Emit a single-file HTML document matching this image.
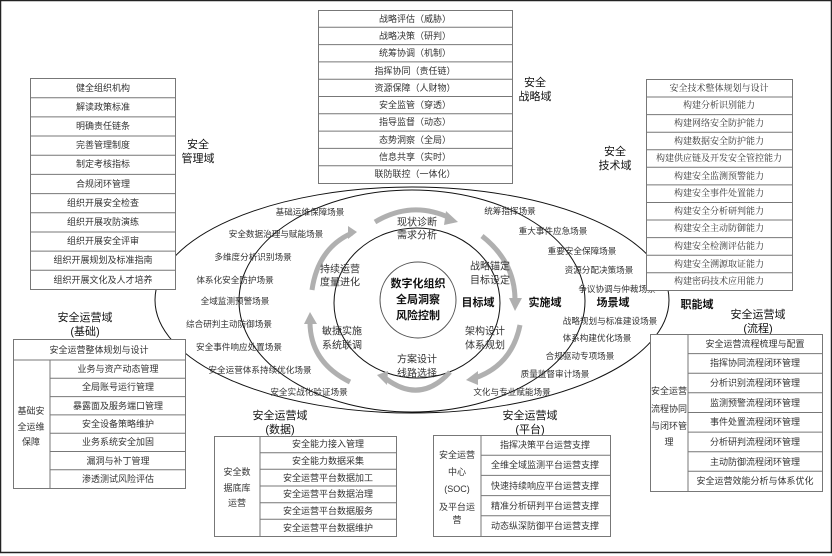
<!DOCTYPE html>
<html><head><meta charset="utf-8"><style>
html,body{margin:0;padding:0;background:#fff}
svg{display:block;font-family:"Liberation Sans","Noto Sans CJK SC",sans-serif}
.t text{font-size:9px;fill:#333;text-anchor:middle;dominant-baseline:central}
.ser text{font-family:"Liberation Serif","Noto Serif CJK SC",serif}
.s text{font-size:8.6px;fill:#333;text-anchor:middle;dominant-baseline:central}
.d{font-size:11px;fill:#111;text-anchor:middle;dominant-baseline:central}
.b{font-size:11px;font-weight:bold;fill:#111;text-anchor:middle;dominant-baseline:central}
.tb rect,.tb line{stroke:#777;stroke-width:1;fill:none}
</style></head><body>
<svg width="832" height="556" viewBox="0 0 832 556">
<rect x="0.5" y="0.5" width="831" height="552" fill="#fff" stroke="#222" stroke-width="1.5"/>

<g fill="none" stroke="#111" stroke-width="1">
<ellipse cx="412" cy="300" rx="257" ry="113"/>
<ellipse cx="412" cy="301" rx="173" ry="111"/>
<ellipse cx="417" cy="303" rx="83" ry="75"/>
<circle cx="418" cy="300" r="38" stroke="#555"/>
</g>

<g fill="none" stroke="#b0b0b0" stroke-width="5">
<path d="M375 222 Q412 200 450 218"/>
<path d="M482 236 Q515 262 515 300"/>
<path d="M520 325 Q512 365 475 378"/>
<path d="M450 372 Q420 405 385 378"/>
<path d="M350 382 Q310 362 310 322"/>
<path d="M312 290 Q318 248 352 233"/>
</g>
<g fill="#b0b0b0">
<polygon points="446,211 458,222 444,225"/>
<polygon points="509,298 515,311 522,298"/>
<polygon points="478,371 466,380 478,385"/>
<polygon points="388,371 377,375 387,385"/>
<polygon points="304,324 310,312 317,324"/>
<polygon points="348,226 357,232 348,239"/>
</g>

<text class="b" x="418" y="284">数字化组织</text>
<text class="b" x="418" y="300">全局洞察</text>
<text class="b" x="418" y="316">风险控制</text>
<text class="b" x="478" y="303">目标域</text>
<text class="b" x="545" y="303">实施域</text>
<text class="b" x="613" y="303">场景域</text>
<text class="b" x="697" y="305">职能域</text>
<g class="t">
<text x="417" y="223" style="font-size:10px">现状诊断</text><text x="417" y="236" style="font-size:10px">需求分析</text>
<text x="490" y="267" style="font-size:10px">战略锚定</text><text x="490" y="281" style="font-size:10px">目标设定</text>
<text x="485" y="332" style="font-size:10px">架构设计</text><text x="485" y="346" style="font-size:10px">体系规划</text>
<text x="417" y="360" style="font-size:10px">方案设计</text><text x="417" y="374" style="font-size:10px">线路选择</text>
<text x="342" y="332" style="font-size:10px">敏捷实施</text><text x="342" y="346" style="font-size:10px">系统联调</text>
<text x="340" y="270" style="font-size:10px">持续运营</text><text x="340" y="283" style="font-size:10px">度量进化</text>
</g>

<g class="s">
<text x="310" y="212">基础运维保障场景</text>
<text x="276" y="234">安全数据治理与赋能场景</text>
<text x="253" y="257">多维度分析识别场景</text>
<text x="235" y="280">体系化安全防护场景</text>
<text x="235" y="301">全域监测预警场景</text>
<text x="229" y="324">综合研判主动防御场景</text>
<text x="239" y="347">安全事件响应处置场景</text>
<text x="260" y="370">安全运营体系持续优化场景</text>
<text x="309" y="392">安全实战化验证场景</text>
<text x="510" y="211">统筹指挥场景</text>
<text x="553" y="231">重大事件应急场景</text>
<text x="582" y="251">重要安全保障场景</text>
<text x="599" y="270">资源分配决策场景</text>
<text x="617" y="289">争议协调与仲裁场景</text>
<text x="610" y="321">战略规划与标准建设场景</text>
<text x="597" y="338">体系构建优化场景</text>
<text x="580" y="356">合规驱动专项场景</text>
<text x="555" y="374">质量监督审计场景</text>
<text x="512" y="392">文化与专业赋能场景</text>
</g>

<text class="d" x="198" y="145">安全</text><text class="d" x="198" y="159">管理域</text>
<text class="d" x="535" y="83">安全</text><text class="d" x="535" y="97">战略域</text>
<text class="d" x="615" y="152">安全</text><text class="d" x="615" y="166">技术域</text>
<text class="d" x="85" y="318">安全运营域</text><text class="d" x="85" y="332">(基础)</text>
<text class="d" x="280" y="416">安全运营域</text><text class="d" x="280" y="430">(数据)</text>
<text class="d" x="530" y="416">安全运营域</text><text class="d" x="530" y="430">(平台)</text>
<text class="d" x="758" y="315">安全运营域</text><text class="d" x="758" y="329">(流程)</text>

<g class="tb"><rect x="30.5" y="78.5" width="145" height="211" style="fill:#fff"/>
<line x1="30" x2="175" y1="97.7" y2="97.7"/><line x1="30" x2="175" y1="116.9" y2="116.9"/><line x1="30" x2="175" y1="136" y2="136"/><line x1="30" x2="175" y1="155.2" y2="155.2"/><line x1="30" x2="175" y1="174.4" y2="174.4"/><line x1="30" x2="175" y1="193.6" y2="193.6"/><line x1="30" x2="175" y1="212.8" y2="212.8"/><line x1="30" x2="175" y1="232" y2="232"/><line x1="30" x2="175" y1="251.1" y2="251.1"/><line x1="30" x2="175" y1="270.3" y2="270.3"/></g>
<g class="t">
<text x="103" y="88">健全组织机构</text><text x="103" y="107">解读政策标准</text><text x="103" y="126">明确责任链条</text><text x="103" y="145">完善管理制度</text><text x="103" y="164">制定考核指标</text><text x="103" y="184">合规闭环管理</text><text x="103" y="203">组织开展安全检查</text><text x="103" y="222">组织开展攻防演练</text><text x="103" y="241">组织开展安全评审</text><text x="103" y="260">组织开展规划及标准指南</text><text x="103" y="280">组织开展文化及人才培养</text>
</g>

<g class="tb"><rect x="318.5" y="10.5" width="194" height="173" style="fill:#fff"/>
<line x1="318" x2="512" y1="27.3" y2="27.3"/><line x1="318" x2="512" y1="44.6" y2="44.6"/><line x1="318" x2="512" y1="61.9" y2="61.9"/><line x1="318" x2="512" y1="79.2" y2="79.2"/><line x1="318" x2="512" y1="96.5" y2="96.5"/><line x1="318" x2="512" y1="113.8" y2="113.8"/><line x1="318" x2="512" y1="131.1" y2="131.1"/><line x1="318" x2="512" y1="148.4" y2="148.4"/><line x1="318" x2="512" y1="165.7" y2="165.7"/></g>
<g class="t">
<text x="415" y="19">战略评估（威胁）</text><text x="415" y="36">战略决策（研判）</text><text x="415" y="53">统筹协调（机制）</text><text x="415" y="71">指挥协同（责任链）</text><text x="415" y="88">资源保障（人财物）</text><text x="415" y="105">安全监管（穿透）</text><text x="415" y="122">指导监督（动态）</text><text x="415" y="140">态势洞察（全局）</text><text x="415" y="157">信息共享（实时）</text><text x="415" y="174">联防联控（一体化）</text>
</g>

<g class="tb"><rect x="646.5" y="79.5" width="146" height="211" style="fill:#fff"/>
<line x1="646" x2="792" y1="97" y2="97"/><line x1="646" x2="792" y1="114.6" y2="114.6"/><line x1="646" x2="792" y1="132.2" y2="132.2"/><line x1="646" x2="792" y1="149.7" y2="149.7"/><line x1="646" x2="792" y1="167.3" y2="167.3"/><line x1="646" x2="792" y1="184.9" y2="184.9"/><line x1="646" x2="792" y1="202.5" y2="202.5"/><line x1="646" x2="792" y1="220" y2="220"/><line x1="646" x2="792" y1="237.6" y2="237.6"/><line x1="646" x2="792" y1="255.2" y2="255.2"/><line x1="646" x2="792" y1="272.8" y2="272.8"/></g>
<g class="t ser">
<text x="719" y="88">安全技术整体规划与设计</text><text x="719" y="105">构建分析识别能力</text><text x="719" y="123">构建网络安全防护能力</text><text x="719" y="141">构建数据安全防护能力</text><text x="719" y="158">构建供应链及开发安全管控能力</text><text x="719" y="176">构建安全监测预警能力</text><text x="719" y="193">构建安全事件处置能力</text><text x="719" y="211">构建安全分析研判能力</text><text x="719" y="228">构建安全主动防御能力</text><text x="719" y="246">构建安全检测评估能力</text><text x="719" y="264">构建安全溯源取证能力</text><text x="719" y="281">构建密码技术应用能力</text>
</g>

<g class="tb"><rect x="13.5" y="339.5" width="172" height="149" style="fill:#fff"/>
<line x1="13" x2="185" y1="360" y2="360"/><line x1="50" x2="50" y1="360" y2="488"/>
<line x1="50" x2="185" y1="378.3" y2="378.3"/><line x1="50" x2="185" y1="396.6" y2="396.6"/><line x1="50" x2="185" y1="414.9" y2="414.9"/><line x1="50" x2="185" y1="433.2" y2="433.2"/><line x1="50" x2="185" y1="451.5" y2="451.5"/><line x1="50" x2="185" y1="469.7" y2="469.7"/></g>
<g class="t">
<text x="99" y="350">安全运营整体规划与设计</text>
<text x="31" y="411">基础安</text><text x="31" y="427">全运维</text><text x="31" y="442">保障</text>
<text x="118" y="369">业务与资产动态管理</text><text x="118" y="387">全局账号运行管理</text><text x="118" y="406">暴露面及服务端口管理</text><text x="118" y="424">安全设备策略维护</text><text x="118" y="442">业务系统安全加固</text><text x="118" y="461">漏洞与补丁管理</text><text x="118" y="479">渗透测试风险评估</text>
</g>

<g class="tb"><rect x="214.5" y="436.5" width="182" height="100" style="fill:#fff"/>
<line x1="260" x2="260" y1="436" y2="536"/>
<line x1="260" x2="396" y1="452.7" y2="452.7"/><line x1="260" x2="396" y1="469.3" y2="469.3"/><line x1="260" x2="396" y1="486" y2="486"/><line x1="260" x2="396" y1="502.7" y2="502.7"/><line x1="260" x2="396" y1="519.3" y2="519.3"/></g>
<g class="t">
<text x="237" y="472">安全数</text><text x="237" y="488">据底库</text><text x="237" y="503">运营</text>
<text x="328" y="444">安全能力接入管理</text><text x="328" y="461">安全能力数据采集</text><text x="328" y="478">安全运营平台数据加工</text><text x="328" y="494">安全运营平台数据治理</text><text x="328" y="511">安全运营平台数据服务</text><text x="328" y="528">安全运营平台数据维护</text>
</g>

<g class="tb"><rect x="433.5" y="435.5" width="177" height="101" style="fill:#fff"/>
<line x1="481" x2="481" y1="435" y2="536"/>
<line x1="481" x2="610" y1="455.2" y2="455.2"/><line x1="481" x2="610" y1="475.4" y2="475.4"/><line x1="481" x2="610" y1="495.6" y2="495.6"/><line x1="481" x2="610" y1="515.8" y2="515.8"/></g>
<g class="t">
<text x="457" y="455">安全运营</text><text x="457" y="472">中心</text><text x="457" y="489">(SOC)</text><text x="457" y="507">及平台运</text><text x="457" y="520">营</text>
<text x="545" y="445">指挥决策平台运营支撑</text><text x="545" y="465">全维全域监测平台运营支撑</text><text x="545" y="486">快速持续响应平台运营支撑</text><text x="545" y="506">精准分析研判平台运营支撑</text><text x="545" y="526">动态纵深防御平台运营支撑</text>
</g>

<g class="tb"><rect x="650.5" y="334.5" width="172" height="157" style="fill:#fff"/>
<line x1="688" x2="688" y1="334" y2="491"/>
<line x1="688" x2="822" y1="353.6" y2="353.6"/><line x1="688" x2="822" y1="373.2" y2="373.2"/><line x1="688" x2="822" y1="392.8" y2="392.8"/><line x1="688" x2="822" y1="412.5" y2="412.5"/><line x1="688" x2="822" y1="432.1" y2="432.1"/><line x1="688" x2="822" y1="451.7" y2="451.7"/><line x1="688" x2="822" y1="471.3" y2="471.3"/></g>
<g class="t">
<text x="669" y="391">安全运营</text><text x="669" y="409">流程协同</text><text x="669" y="426">与闭环管</text><text x="669" y="442">理</text>
<text x="755" y="344">安全运营流程梳理与配置</text><text x="755" y="363">指挥协同流程闭环管理</text><text x="755" y="383">分析识别流程闭环管理</text><text x="755" y="403">监测预警流程闭环管理</text><text x="755" y="422">事件处置流程闭环管理</text><text x="755" y="442">分析研判流程闭环管理</text><text x="755" y="462">主动防御流程闭环管理</text><text x="755" y="481">安全运营效能分析与体系优化</text>
</g>
</svg>
</body></html>
